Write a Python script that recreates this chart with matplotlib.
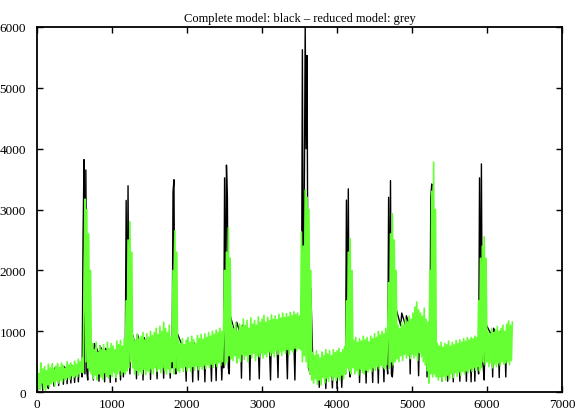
import numpy as np
import matplotlib
matplotlib.use("Agg")
import matplotlib.pyplot as plt

step = 12.5

# complete model (black), 40 samples per 500 units
complete = [
    0, 150, 300, 270, 250, 230, 30, 330, 300, 280, 350, 120, 60, 360, 330, 380, 350, 320, 100, 400,
    370, 340, 320, 110, 400, 380, 350, 330, 130, 420, 390, 360, 140, 430, 400, 370, 150, 440, 410, 380,
    160, 450, 420, 390, 170, 460, 430, 400, 250, 2500, 3820, 300, 3650, 350, 200, 850, 820, 780, 750, 700,
    200, 800, 770, 740, 700, 660, 180, 760, 730, 700, 660, 620, 170, 720, 690, 660, 620, 580, 160, 700,
    670, 640, 600, 560, 170, 680, 650, 620, 580, 200, 650, 620, 250, 600, 400, 3150, 500, 3390, 700, 300,
    1030, 980, 930, 880, 830, 780, 220, 950, 900, 860, 820, 780, 740, 200, 900, 860, 820, 780, 740, 700,
    660, 210, 850, 810, 770, 730, 690, 650, 220, 820, 790, 750, 710, 670, 630, 230, 800, 760, 720, 680,
    640, 600, 230, 780, 400, 3290, 3490, 400, 300, 990, 950, 910, 870, 830, 790, 750, 710, 680, 650, 180,
    850, 810, 770, 730, 700, 660, 170, 820, 780, 740, 700, 660, 200, 850, 810, 770, 730, 690, 660, 170,
    830, 790, 750, 720, 680, 650, 180, 820, 780, 740, 700, 190, 850, 810, 770, 730, 700, 200, 700, 400,
    3520, 500, 3730, 3200, 400, 300, 1265, 1200, 1150, 1090, 1030, 980, 950, 1150, 1100, 1050, 1000, 950, 230, 1100,
    1060, 1020, 980, 940, 900, 860, 820, 200, 1050, 1010, 970, 930, 890, 850, 810, 780, 750, 220, 1000, 960,
    920, 880, 850, 810, 780, 750, 720, 690, 660, 200, 980, 940, 900, 860, 820, 790, 760, 240, 1000, 960,
    920, 890, 850, 820, 790, 760, 730, 220, 1000, 960, 920, 890, 850, 820, 790, 200, 1050, 1010, 970, 930,
    900, 870, 700, 5625, 800, 3000, 6000, 4000, 5530, 800, 400, 300, 1700, 1150, 550, 520, 500, 470, 450, 430,
    410, 80, 500, 480, 460, 440, 420, 400, 60, 520, 500, 480, 460, 440, 420, 70, 500, 480, 460, 440,
    60, 520, 500, 480, 460, 80, 500, 480, 460, 300, 3155, 500, 3340, 400, 250, 900, 870, 840, 810, 780,
    750, 720, 690, 660, 160, 800, 770, 740, 710, 680, 650, 150, 780, 750, 720, 690, 660, 630, 160, 800,
    770, 740, 710, 680, 150, 780, 750, 720, 690, 660, 170, 800, 770, 500, 300, 3200, 400, 3475, 300, 250,
    500, 1000, 800, 1365, 1310, 1250, 1200, 1150, 1090, 1300, 1250, 1200, 1150, 1100, 1255, 1200, 1150, 1100, 300, 1150,
    1100, 1060, 1020, 980, 950, 920, 890, 270, 1000, 960, 920, 890, 860, 830, 800, 770, 250, 950, 900, 600,
    3200, 3420, 1000, 400, 710, 690, 670, 650, 630, 610, 590, 570, 180, 700, 680, 660, 640, 620, 180, 720,
    700, 680, 660, 640, 170, 720, 700, 680, 660, 640, 620, 180, 730, 710, 690, 670, 650, 630, 180, 750,
    730, 710, 690, 170, 760, 740, 720, 180, 800, 780, 500, 300, 3520, 600, 3750, 500, 400, 200, 1150, 1120,
    1080, 1050, 1020, 990, 960, 930, 250, 1050, 1020, 990, 960, 930, 900, 240, 1000, 970, 940, 910, 880, 850,
    250, 950, 920,
]

# reduced model (grey, drawn green), 40 samples per 500 units
reduced = [
    440, 80, 300, 40, 480, 150, 380, 60, 420, 30, 350, 120, 460, 90, 400, 140, 470, 170, 380, 110,
    430, 190, 470, 150, 400, 200, 480, 170, 440, 230, 390, 200, 500, 240, 450, 210, 480, 270, 430, 240,
    510, 280, 460, 250, 540, 300, 500, 330, 560, 320, 1500, 3170, 500, 3000, 400, 2600, 350, 2000, 300, 800,
    220, 700, 280, 820, 200, 650, 300, 760, 250, 700, 210, 780, 320, 680, 260, 820, 230, 720, 290, 800,
    260, 760, 330, 700, 240, 840, 300, 780, 350, 850, 280, 760, 330, 880, 300, 1500, 350, 2500, 400, 2800,
    500, 2300, 400, 900, 300, 850, 360, 950, 280, 880, 340, 920, 300, 980, 370, 860, 290, 960, 350, 900,
    320, 1000, 380, 930, 300, 980, 400, 1050, 340, 950, 380, 1080, 320, 1000, 400, 1150, 360, 1050, 300, 980,
    380, 1100, 320, 900, 500, 2000, 300, 2650, 400, 2300, 350, 850, 330, 800, 400, 880, 340, 780, 420, 850,
    350, 900, 400, 820, 340, 920, 420, 860, 360, 800, 430, 930, 370, 880, 420, 950, 380, 870, 440, 960,
    390, 900, 450, 980, 400, 920, 460, 1000, 410, 950, 470, 1020, 420, 980, 480, 1050, 440, 1000, 500, 1080,
    2000, 450, 2300, 500, 2700, 600, 2200, 550, 1100, 520, 1050, 600, 1150, 480, 1000, 560, 1120, 500, 1080, 620,
    1200, 540, 1100, 600, 1180, 500, 1050, 620, 1220, 560, 1120, 640, 1180, 520, 1100, 600, 1240, 580, 1150, 640,
    1200, 560, 1260, 620, 1150, 580, 1230, 660, 1180, 600, 1270, 640, 1200, 580, 1250, 680, 1190, 620, 1280, 660,
    1220, 600, 1300, 680, 1230, 640, 1290, 700, 1240, 620, 1310, 690, 1260, 660, 1320, 720, 1280, 680, 1300, 720,
    1250, 700, 2630, 500, 2400, 600, 3320, 500, 3200, 400, 3000, 300, 2000, 200, 650, 150, 600, 220, 680, 130,
    620, 200, 560, 120, 660, 240, 600, 150, 700, 230, 630, 180, 680, 260, 600, 200, 700, 250, 650, 190,
    680, 240, 720, 200, 650, 280, 700, 220, 750, 300, 1500, 400, 2300, 350, 2520, 300, 2000, 400, 850, 300,
    900, 350, 820, 280, 880, 380, 840, 320, 920, 300, 860, 360, 900, 330, 830, 380, 920, 340, 880, 400,
    960, 360, 900, 420, 1000, 380, 940, 440, 1000, 400, 960, 380, 1050, 450, 1000, 1800, 400, 2600, 500, 2930,
    450, 2500, 500, 2000, 550, 1100, 500, 1050, 600, 1150, 520, 1100, 620, 1200, 560, 1150, 600, 1250, 550, 1200,
    620, 1300, 560, 1400, 600, 1480, 520, 1350, 650, 1300, 580, 1250, 500, 1380, 450, 1200, 350, 1150, 150, 2000,
    300, 3300, 250, 3780, 300, 3000, 250, 800, 200, 760, 250, 820, 180, 740, 260, 800, 200, 780, 280, 840,
    220, 760, 300, 820, 240, 780, 320, 850, 260, 800, 330, 860, 280, 820, 340, 880, 300, 840, 350, 900,
    320, 860, 380, 900, 340, 880, 400, 920, 360, 900, 420, 1500, 350, 2200, 400, 2400, 500, 2550, 450, 2200,
    500, 1000, 420, 960, 480, 1050, 400, 980, 460, 1020, 420, 1080, 480, 1000, 440, 1050, 500, 1100, 460, 1000,
    480, 1120, 500, 1170, 450, 1100, 520, 1150,
]

x_ticks = [0, 1000, 2000, 3000, 4000, 5000, 6000, 7000]
y_ticks = [0, 1000, 2000, 3000, 4000, 5000, 6000]

plt.rcParams["font.family"] = ["Liberation Serif", "DejaVu Serif"]

fig = plt.figure(figsize=(5.8, 4.1), dpi=100)
ax = fig.add_axes([0.064, 0.041, 0.905, 0.891])

x_c = np.arange(len(complete)) * step
x_r = np.arange(len(reduced)) * step
ax.plot(x_c, complete, color="black", lw=1.0)
ax.plot(x_r, reduced, color="#66ff33", lw=1.2)

ax.set_xlim(0, 7000)
ax.set_ylim(0, 6000)
ax.set_xticks(x_ticks)
ax.set_yticks(y_ticks)
ax.tick_params(direction="in", top=True, right=True, length=4, width=1,
               labelsize=9.5)
ax.tick_params(axis="x", pad=4)
ax.tick_params(axis="y", pad=8)
for s in ax.spines.values():
    s.set_linewidth(1.3)
ax.set_title("Complete model: black \u2013 reduced model: grey", fontsize=9, pad=4)

fig.savefig("out.png", dpi=100)
